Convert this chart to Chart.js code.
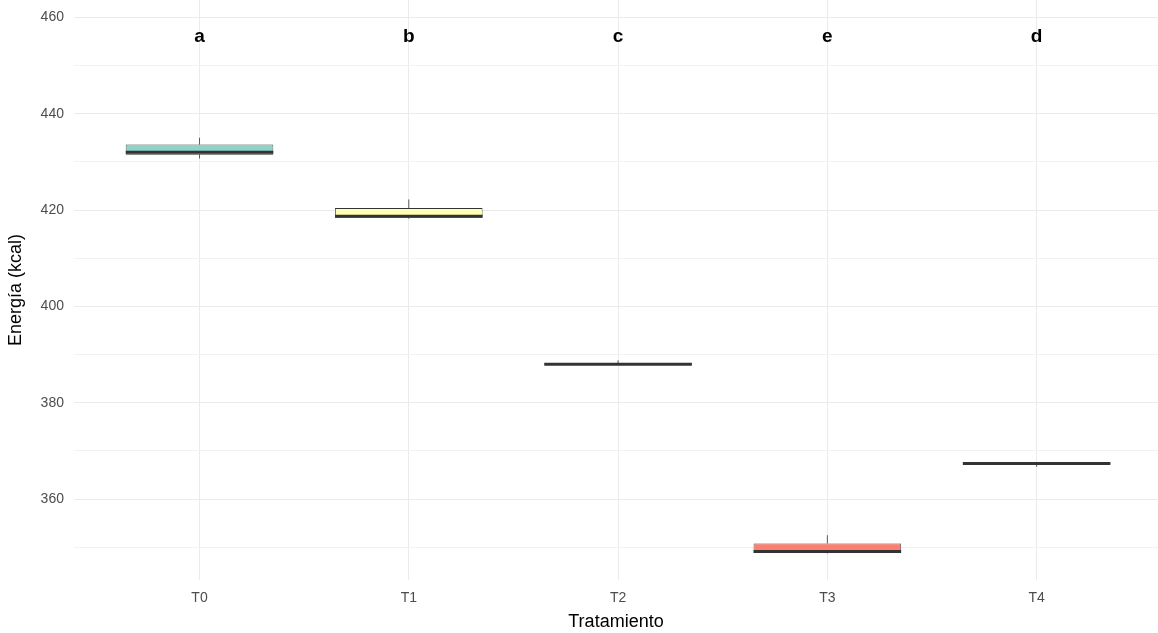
<!DOCTYPE html>
<html>
<head>
<meta charset="utf-8">
<script src="https://cdn.jsdelivr.net/npm/chart.js@4/dist/chart.umd.min.js"></script>
<style>
	html, body { margin: 0; padding: 0; background: #fff; }
	#wrap { width: 1158px; height: 633px; }
</style>
</head>
<body>
<div id="wrap"><canvas id="boxChart" width="1158" height="633"></canvas></div>
<script>
"use strict";

// box statistics, one entry per treatment
var categories = ['T0', 'T1', 'T2', 'T3', 'T4'];
var q1 = [431.5, 418.4, 387.9, 348.8, 367.2];
var q3 = [433.6, 420.4, 388.2, 350.8, 367.6];
var medians = [432.0, 418.7, 388.0, 349.1, 367.4];
var whiskerLow = [430.7, 418.2, 387.9, 348.7, 366.7];
var whiskerHigh = [435.0, 422.2, 388.8, 352.5, 367.6];
var letters = ['a', 'b', 'c', 'e', 'd'];
var letterValue = 456;
var boxColors = ['#8DD3C7', '#FFFFB3', '#BEBADA', '#FB8072', '#80B1D3'];

var boxData = categories.map(function (c, i) {
	return { x: i, y: [q1[i], q3[i]] };
});

// whiskers, medians and group letters drawn through the chart's scales
var boxExtras = {
	id: 'boxExtras',
	beforeDatasetsDraw: function (chart) {
		var ctx = chart.ctx;
		var yScale = chart.scales.y;
		var meta = chart.getDatasetMeta(0);
		ctx.save();
		ctx.strokeStyle = '#333333';
		ctx.lineWidth = 0.8;
		meta.data.forEach(function (bar, i) {
			ctx.beginPath();
			ctx.moveTo(bar.x, yScale.getPixelForValue(q3[i]));
			ctx.lineTo(bar.x, yScale.getPixelForValue(whiskerHigh[i]));
			ctx.moveTo(bar.x, yScale.getPixelForValue(q1[i]));
			ctx.lineTo(bar.x, yScale.getPixelForValue(whiskerLow[i]));
			ctx.stroke();
		});
		ctx.restore();
	},
	afterDatasetsDraw: function (chart) {
		var ctx = chart.ctx;
		var xScale = chart.scales.x;
		var yScale = chart.scales.y;
		var meta = chart.getDatasetMeta(0);
		ctx.save();
		ctx.strokeStyle = '#333333';
		ctx.lineWidth = 3;
		meta.data.forEach(function (bar, i) {
			var half = bar.width / 2;
			var y = yScale.getPixelForValue(medians[i]);
			ctx.beginPath();
			ctx.moveTo(bar.x - half, y);
			ctx.lineTo(bar.x + half, y);
			ctx.stroke();
		});
		ctx.fillStyle = '#000000';
		ctx.font = 'bold 19px "Liberation Sans", Arial, sans-serif';
		ctx.textAlign = 'center';
		ctx.textBaseline = 'middle';
		letters.forEach(function (l, i) {
			ctx.fillText(l, xScale.getPixelForValue(i), yScale.getPixelForValue(letterValue));
		});
		ctx.restore();
	}
};

var boxChart = new Chart(document.getElementById('boxChart'), {
	type: 'bar',
	data: {
		datasets: [{
			data: boxData,
			backgroundColor: boxColors,
			borderColor: '#333333',
			borderWidth: 0.8,
			borderSkipped: false,
			barPercentage: 0.705,
			categoryPercentage: 1
		}]
	},
	options: {
		responsive: false,
		animation: false,
		layout: {
			padding: { left: 5, right: 0, top: 0, bottom: 0 }
		},
		plugins: {
			legend: { display: false },
			tooltip: { enabled: false }
		},
		scales: {
			x: {
				type: 'linear',
				min: -0.6,
				max: 4.58,
				offset: false,
				afterFit: function (scale) {
					scale.paddingLeft = 0;
					scale.paddingRight = 0;
					scale.height = 53;
				},
				grid: { color: '#EBEBEB', drawTicks: false, offset: false },
				border: { display: false },
				ticks: {
					stepSize: 1,
					includeBounds: false,
					padding: 10,
					color: '#4D4D4D',
					font: { family: '"Liberation Sans", Arial, sans-serif', size: 14 },
					callback: function (value) { return categories[value]; }
				},
				title: {
					display: true,
					text: 'Tratamiento',
					color: '#000000',
					padding: { top: 4, bottom: 0 },
					font: { family: '"Liberation Sans", Arial, sans-serif', size: 18 }
				}
			},
			y: {
				min: 343.2,
				max: 463.6,
				afterFit: function (scale) {
					scale.paddingTop = 0;
					scale.paddingBottom = 0;
				},
				grid: {
					drawTicks: false,
					color: function (c) { return c.tick && c.tick.value % 20 === 0 ? '#EBEBEB' : '#F2F2F2'; }
				},
				border: { display: false },
				ticks: {
					stepSize: 10,
					includeBounds: false,
					padding: 10,
					color: '#4D4D4D',
					font: { family: '"Liberation Sans", Arial, sans-serif', size: 14 },
					callback: function (value) { return value % 20 === 0 ? value : ''; }
				},
				title: {
					display: true,
					text: 'Energía (kcal)',
					color: '#000000',
					padding: { top: 0, bottom: 4 },
					font: { family: '"Liberation Sans", Arial, sans-serif', size: 18 }
				}
			}
		}
	},
	plugins: [boxExtras]
});
</script>
</body>
</html>
